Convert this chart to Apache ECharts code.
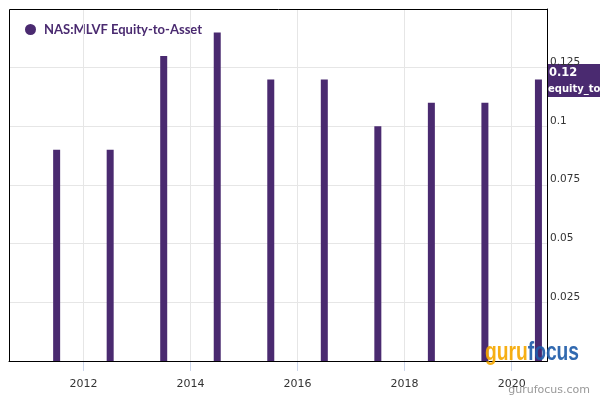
<!DOCTYPE html>
<html>
<head>
<meta charset="utf-8">
<script src="https://cdn.jsdelivr.net/npm/echarts@6/dist/echarts.min.js"></script>
<style>html,body{margin:0;padding:0;background:#fff}#c{width:600px;height:400px}</style>
</head>
<body>
<div id="c"></div>
<script>
// Data
const seriesName = 'NAS:MLVF Equity-to-Asset';
const periods = [2011.5, 2012.5, 2013.5, 2014.5, 2015.5, 2016.5, 2017.5, 2018.5, 2019.5, 2020.5];
const equityToAsset = [0.09, 0.09, 0.13, 0.14, 0.12, 0.12, 0.10, 0.11, 0.11, 0.12];
const xTickYears = [2012, 2014, 2016, 2018, 2020];
const yTicks = [0.025, 0.05, 0.075, 0.1, 0.125];
const lastValue = 0.12;
const lastLabel = 'equity_to_asset';

const purple = '#4a2a70';
const xMin = 2010.61, xMax = 2020.66, yMin = 0, yMax = 0.15;
const chart = echarts.init(document.getElementById('c'));
chart.setOption({
  animation: false,
  grid: { left: 9, right: 53, top: 9, bottom: 39 },
  legend: {
    show: true, left: 20, top: 18, icon: 'circle', itemWidth: 17, itemHeight: 11,
    textStyle: { color: purple, fontWeight: 'bold', fontSize: 13, fontFamily: 'Lato' },
    data: [seriesName]
  },
  xAxis: {
    type: 'value', min: xMin, max: xMax,
    axisLine: { show: true, onZero: false, lineStyle: { color: '#000' } },
    axisTick: { show: true, customValues: xTickYears, length: 10, lineStyle: { color: '#ccd6eb' } },
    axisLabel: { customValues: xTickYears, color: '#333', fontSize: 11, fontFamily: 'DejaVu Sans', margin: 18, formatter: v => String(v) },
    splitLine: { show: false }
  },
  yAxis: {
    type: 'value', position: 'right', min: yMin, max: yMax, interval: 0.025,
    axisLine: { show: true, onZero: false, lineStyle: { color: '#000' } },
    axisTick: { show: false },
    axisLabel: {
      customValues: yTicks, color: '#333', fontSize: 10.5, fontFamily: 'DejaVu Sans', margin: 3,
      verticalAlign: 'bottom', formatter: v => String(+v.toFixed(3))
    },
    splitLine: { show: true, lineStyle: { color: '#e6e6e6' } }
  },
  series: [{
    name: seriesName, type: 'bar', barWidth: 7, itemStyle: { color: purple },
    data: periods.map((p, i) => [p, equityToAsset[i]]),
    markLine: {
      silent: true, symbol: 'none', label: { show: false },
      lineStyle: { color: '#e6e6e6', type: 'solid', width: 1 },
      data: xTickYears.map(y => ({ xAxis: y }))
    },
    z: 3
  }]
});

// Frame and last-value flag, placed via the library's own scale
const tl = chart.convertToPixel({ xAxisIndex: 0, yAxisIndex: 0 }, [xMin, yMax]);
const br = chart.convertToPixel({ xAxisIndex: 0, yAxisIndex: 0 }, [xMax, yMin]);
const p = chart.convertToPixel({ xAxisIndex: 0, yAxisIndex: 0 }, [xMax, lastValue]);
chart.setOption({
  graphic: [
    { type: 'rect', silent: true, z: 50,
      shape: { x: Math.round(tl[0]) + 0.5, y: Math.round(tl[1]) + 0.5, width: Math.round(br[0] - tl[0]), height: Math.round(br[1] - tl[1]) },
      style: { fill: 'none', stroke: '#000', lineWidth: 1 } },
    { type: 'group', x: Math.round(p[0]), y: Math.round(p[1]), z: 100, children: [
      { type: 'rect', shape: { x: 0, y: -15, width: 70, height: 33 }, style: { fill: purple } },
      { type: 'text', x: 2, y: -6, style: { text: String(lastValue), fill: '#fff', fontWeight: 'bold', fontSize: 11.5, fontFamily: 'DejaVu Sans', textVerticalAlign: 'middle' } },
      { type: 'text', x: 1, y: 10, style: { text: lastLabel, fill: '#fff', fontWeight: 'bold', fontSize: 10, fontFamily: 'DejaVu Sans', textVerticalAlign: 'middle' } }
    ] },
    { type: 'text', x: 485, y: 340, scaleX: 0.74, z: 100, style: {
      text: '{a|guru}{b|focus}', textVerticalAlign: 'top', opacity: 0.92,
      rich: {
        a: { fill: '#f5a800', fontSize: 26, fontWeight: 'bold', fontFamily: 'Liberation Sans' },
        b: { fill: '#1f5ca9', fontSize: 26, fontWeight: 'bold', fontFamily: 'Liberation Sans' }
      } } },
    { type: 'text', right: 10, top: 385, style: { text: 'gurufocus.com', fill: '#999', fontSize: 11, fontFamily: 'DejaVu Sans' } }
  ]
});
</script>
</body>
</html>
